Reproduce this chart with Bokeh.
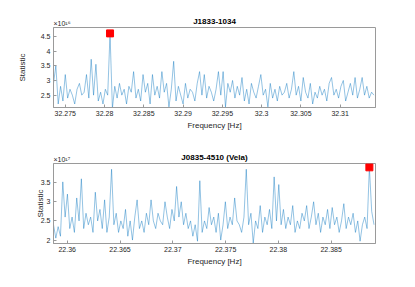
import numpy as np
from bokeh.plotting import figure
from bokeh.layouts import column
from bokeh.models import FixedTicker, Title, Range1d
from bokeh.embed import file_html
from bokeh.resources import INLINE

# ---------------- data ----------------
top_title = "J1833-1034"
top_f0 = 32.2735
top_df = 0.0003
top_vals = [2.9, 3.5, 2.2, 2.8, 2.3, 3.2, 2.4, 2.7, 2.5, 2.2,
            2.7, 2.9, 2.5, 2.6, 3.2, 2.4, 3.72, 2.5, 3.55, 2.3,
            2.6, 2.2, 2.7, 2.5, 4.6, 2.05, 2.8, 2.4, 2.9, 2.5,
            2.7, 2.2, 2.8, 2.6, 3.3, 2.4, 2.7, 2.3, 3.2, 2.6,
            2.9, 2.2, 3.2, 2.5, 2.8, 2.4, 3.3, 2.6, 2.9, 2.1,
            2.7, 3.65, 2.3, 2.8, 2.5, 2.2, 2.9, 2.4, 2.7, 2.6,
            2.3, 2.9, 3.3, 2.5, 3.2, 2.4, 2.8, 2.6, 2.3, 2.7,
            3.3, 2.5, 3.3, 2.1, 2.9, 2.6, 3.0, 2.4, 2.8, 2.5,
            3.1, 2.3, 2.7, 2.2, 2.9, 2.6, 2.4, 2.8, 3.2, 2.5,
            2.7, 2.1, 2.9, 2.4, 2.7, 2.3, 2.8, 2.5, 2.6, 2.9,
            2.4, 2.7, 3.3, 2.5, 2.8, 2.3, 3.1, 2.6, 2.4, 2.9,
            2.2, 2.6, 2.4, 2.8, 2.5, 2.7, 2.3, 2.9, 3.1, 2.5,
            2.7, 2.4, 2.8, 3.0, 2.3, 2.6, 2.9, 2.5, 3.1, 2.4,
            2.7, 3.1, 2.5, 2.8, 2.4, 2.6, 2.5]
top_xticks = [32.275, 32.28, 32.285, 32.29, 32.295, 32.3, 32.305, 32.31]
top_xlabels = ["32.275", "32.28", "32.285", "32.29", "32.295", "32.3", "32.305", "32.31"]
top_yticks = [2.5, 3, 3.5, 4, 4.5]
top_ylabels = ["2.5", "3", "3.5", "4", "4.5"]
top_exp = "\u00d710\u00b9\u2076"
top_xlim = (32.2735, 32.3145)
top_ylim = (2.08, 4.8)

bot_title = "J0835-4510 (Vela)"
bot_f0 = 22.3587
bot_df = 0.00022
bot_vals = [2.4, 2.05, 2.35, 2.1, 3.52, 2.6, 3.2, 2.3, 2.6, 2.2,
            3.1, 2.5, 3.6, 2.3, 2.7, 2.4, 2.6, 2.2, 3.25, 2.5,
            2.8, 2.3, 3.05, 2.2, 2.6, 3.85, 2.4, 2.7, 2.2, 2.5,
            2.3, 2.8, 2.1, 2.5, 2.0, 2.6, 3.05, 2.3, 2.5, 2.2,
            2.7, 2.4, 3.05, 2.5, 2.3, 2.7, 2.5, 2.4, 3.0, 2.6,
            2.3, 2.8, 2.5, 3.4, 2.6, 3.0, 2.4, 2.7, 2.3, 2.5,
            2.1, 2.4, 1.97, 3.55, 2.2, 2.5, 2.3, 2.85, 2.4, 2.6,
            2.2, 2.7, 2.0, 2.4, 3.0, 2.3, 2.6, 2.4, 3.1, 2.5,
            2.4, 2.2, 2.6, 3.85, 2.4, 2.7, 1.92, 2.5, 2.3, 2.9,
            2.2, 2.6, 2.4, 2.8, 2.3, 3.65, 2.5, 3.45, 2.4, 2.8,
            2.3, 2.6, 2.4, 2.9, 2.2, 2.5, 2.3, 2.7, 2.5, 2.9,
            2.3, 2.6, 3.0, 2.4, 2.7, 2.2, 2.6, 2.4, 2.8, 2.3,
            2.85, 2.4, 2.6, 2.2, 2.5, 2.95, 2.3, 2.6, 2.4, 2.7,
            2.2, 2.5, 1.97, 2.4, 2.6, 2.3, 3.9, 2.75, 2.4]
bot_xticks = [22.36, 22.365, 22.37, 22.375, 22.38, 22.385]
bot_xlabels = ["22.36", "22.365", "22.37", "22.375", "22.38", "22.385"]
bot_yticks = [2, 2.5, 3, 3.5]
bot_ylabels = ["2", "2.5", "3", "3.5"]
bot_exp = "\u00d710\u00b9\u2077"
bot_xlim = (22.3587, 22.3892)
bot_ylim = (1.91, 4.0)

x_label = "Frequency [Hz]"
y_label = "Statistic"

FONT = "Liberation Sans"
AX = "#9a9a9a"
TXT = "#262626"


def style_axis(a):
    a.axis_line_color = AX
    a.major_tick_line_color = AX
    a.major_tick_in = 3
    a.major_tick_out = 0
    a.minor_tick_line_color = None
    a.major_label_text_font = FONT
    a.major_label_text_font_size = "7px"
    a.major_label_text_color = TXT
    a.major_label_standoff = 3
    a.axis_label_text_font = FONT
    a.axis_label_text_font_size = "8px"
    a.axis_label_text_font_style = "normal"
    a.axis_label_text_color = TXT


def make_panel(title, f0, df, vals, xticks, xlabels, yticks, ylabels, exp,
               xlim, ylim, height, border_top, border_bottom, ylabel_standoff):
    vals = np.array(vals)
    freqs = f0 + df * np.arange(len(vals))
    p = figure(width=399, height=height, output_backend="svg", toolbar_location=None,
               x_range=Range1d(*xlim), y_range=Range1d(*ylim),
               min_border_left=53, min_border_right=24,
               min_border_top=border_top, min_border_bottom=border_bottom)
    p.title.text = title
    p.title.align = "center"
    p.title.text_font = FONT
    p.title.text_font_size = "8px"
    p.title.text_font_style = "bold"
    p.title.text_color = "#000000"
    p.title.standoff = -17
    p.add_layout(Title(text=exp, align="left", text_font=FONT, text_font_size="7px",
                       text_font_style="normal", text_color=TXT, standoff=1), "above")
    p.grid.visible = False
    p.outline_line_color = AX
    p.outline_line_width = 1
    p.background_fill_color = "white"

    p.line(freqs, vals, line_color="#0072BD", line_width=0.5, line_alpha=0.85)
    k = int(np.argmax(vals))
    p.scatter([freqs[k]], [vals[k]], marker="square", size=7,
              fill_color="#ff0000", line_color="#ff0000")

    xa = p.xaxis[0]
    xa.ticker = FixedTicker(ticks=xticks)
    xa.major_label_overrides = {t: l for t, l in zip(xticks, xlabels)}
    xa.axis_label = x_label
    xa.axis_label_standoff = 2
    ya = p.yaxis[0]
    ya.ticker = FixedTicker(ticks=yticks)
    ya.major_label_overrides = {t: l for t, l in zip(yticks, ylabels)}
    ya.axis_label = y_label
    ya.axis_label_standoff = ylabel_standoff
    style_axis(xa)
    style_axis(ya)
    return p


p1 = make_panel(top_title, top_f0, top_df, top_vals, top_xticks, top_xlabels,
                top_yticks, top_ylabels, top_exp, top_xlim, top_ylim,
                143, 27, 36, 11)
p2 = make_panel(bot_title, bot_f0, bot_df, bot_vals, bot_xticks, bot_xlabels,
                bot_yticks, bot_ylabels, bot_exp, bot_xlim, bot_ylim,
                140, 20, 40, -7)

layout = column(p1, p2, spacing=0)
open("out.html", "w").write(file_html(layout, INLINE))
